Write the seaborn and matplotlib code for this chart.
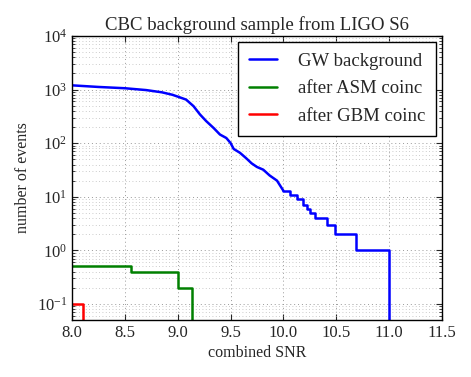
import matplotlib
matplotlib.use("Agg")
import matplotlib.pyplot as plt
import seaborn as sns
import pandas as pd

# GW background: dense part of the cumulative distribution (drawn as a line)
snr_bulk = [8.0, 8.25, 8.5, 8.7, 8.85, 8.95, 9.0, 9.08, 9.15, 9.21, 9.27, 9.34, 9.40,
            9.46, 9.50, 9.53, 9.59, 9.65, 9.70, 9.75, 9.81, 9.87, 9.94, 9.98, 10.0]
n_bulk = [1200, 1120, 1060, 980, 890, 800, 740, 650, 490, 345, 258, 192, 145,
          125, 101, 78, 66, 52, 42, 36, 32, 25, 20, 15, 13]
# GW background: sparse tail (drawn as steps); last value = no events left
snr_tail = [10.0, 10.06, 10.13, 10.19, 10.22, 10.25, 10.30, 10.41, 10.49, 10.69, 11.0]
n_tail = [13, 11, 9, 7, 6, 5, 4, 3, 2, 1, 1e-3]
# after ASM coincidence
snr_asm = [8.0, 8.56, 9.0, 9.14]
n_asm = [0.5, 0.4, 0.2, 1e-3]
# after GBM coincidence
snr_gbm = [8.0, 8.10]
n_gbm = [0.1, 1e-3]

x_ticks = [8.0, 8.5, 9.0, 9.5, 10.0, 10.5, 11.0, 11.5]
labels = ["GW background", "after ASM coinc", "after GBM coinc"]

sns.set_style("ticks")
plt.rcParams["font.family"] = ["Liberation Serif", "DejaVu Serif"]
plt.rcParams["mathtext.fontset"] = "custom"
plt.rcParams["mathtext.rm"] = "Liberation Serif"
plt.rcParams["mathtext.it"] = "Liberation Serif:italic"
plt.rcParams["mathtext.bf"] = "Liberation Serif:bold"

fig = plt.figure(figsize=(4.71, 3.77), dpi=100)
ax = fig.add_axes([0.153, 0.151, 0.785, 0.7535])

df_bulk = pd.DataFrame({"snr": snr_bulk, "n": n_bulk})
df_tail = pd.DataFrame({"snr": snr_tail, "n": n_tail})
df_asm = pd.DataFrame({"snr": snr_asm, "n": n_asm})
df_gbm = pd.DataFrame({"snr": snr_gbm, "n": n_gbm})

sns.lineplot(data=df_bulk, x="snr", y="n", ax=ax, color="blue", lw=1.8, label=labels[0])
sns.lineplot(data=df_tail, x="snr", y="n", ax=ax, color="blue", lw=1.8,
             drawstyle="steps-post")
sns.lineplot(data=df_asm, x="snr", y="n", ax=ax, color="green", lw=1.8,
             drawstyle="steps-post", label=labels[1])
sns.lineplot(data=df_gbm, x="snr", y="n", ax=ax, color="red", lw=1.8,
             drawstyle="steps-post", label=labels[2])

ax.set_yscale("log")
ax.set_xlim(8.0, 11.5)
ax.set_ylim(0.05, 1e4)
ax.set_xticks(x_ticks)
ax.set_xticklabels([f"{t:.1f}" for t in x_ticks])

ax.grid(True, which="major", ls=(0, (1, 3)), color="#999999", lw=0.7)
ax.grid(True, which="minor", axis="y", ls=(0, (1, 3)), color="#bbbbbb", lw=0.6)
ax.set_axisbelow(True)

ax.tick_params(which="both", direction="in", top=True, right=True, labelsize=12)
ax.tick_params(which="major", length=4, width=0.8)
ax.tick_params(which="minor", length=2, width=0.6)
for s in ax.spines.values():
    s.set_color("black")
    s.set_linewidth(1.0)

ax.set_xlabel("combined SNR", fontsize=11.5, labelpad=3)
ax.set_ylabel("number of events", fontsize=11.5, labelpad=4)
ax.set_title("CBC background sample from LIGO S6", fontsize=13.5, pad=4)

leg = ax.legend(loc="upper right", fontsize=13.5, frameon=True, fancybox=False,
                borderaxespad=0.3, handlelength=1.5, handletextpad=1.1,
                borderpad=0.6, labelspacing=0.55)
leg.get_frame().set_edgecolor("black")
leg.get_frame().set_linewidth(1.0)
leg.get_frame().set_alpha(1.0)

fig.savefig("out.png", dpi=100)
